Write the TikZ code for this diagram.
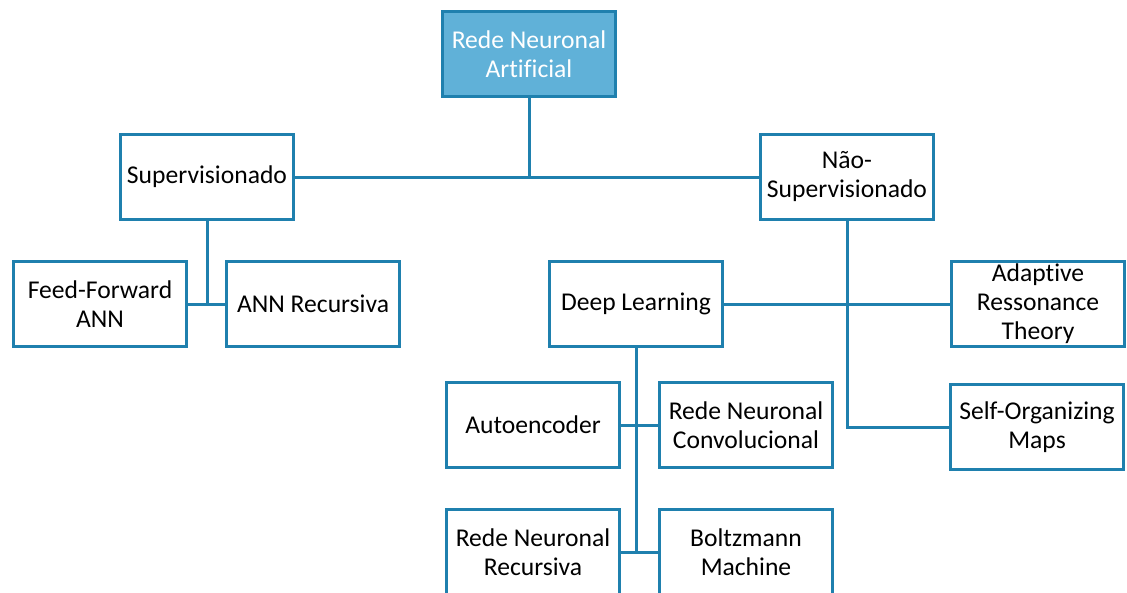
\documentclass[tikz,border=0pt]{standalone}
\usepackage{fontspec}
\setmainfont[Ligatures=NoCommon]{Carlito}
\definecolor{bord}{HTML}{1F80AE}
\definecolor{rootfill}{HTML}{60B1D8}
\begin{document}
\begin{tikzpicture}[x=1pt,y=-1pt,
  box/.style={draw=bord,line width=3.5pt,fill=white,minimum width=173pt,minimum height=85pt,
    inner sep=2pt,align=center,font=\fontsize{25.6}{29}\selectfont,text=black},
  rootbox/.style={box,fill=rootfill,text=white},
  conn/.style={draw=bord,line width=3pt}]
\useasboundingbox (0,0) rectangle (1127,592);
\clip (0,0) rectangle (1127,592);
\node[rootbox] (root) at (529,54) {Rede Neuronal\\Artificial};
\node[box] (sup) at (207,177) {Supervisionado};
\node[box] (nao) at (847,177) {Não-\\Supervisionado};
\node[box] (ff) at (100,304) {Feed-Forward\\ANN};
\node[box] (annr) at (313,304) {ANN Recursiva};
\node[box] (dl) at (636,304) {Deep Learning};
\node[box] (art) at (1038,304) {Adaptive\\Ressonance\\Theory};
\node[box] (ae) at (533,425) {Autoencoder};
\node[box] (rnc) at (746,425) {Rede Neuronal\\Convolucional};
\node[box] (som) at (1037,427) {Self-Organizing\\Maps};
\node[box] (rnr) at (533,552) {Rede Neuronal\\Recursiva};
\node[box] (bm) at (746,552) {Boltzmann\\Machine};
\coordinate (j1) at (root.south |- sup.east);
\path[conn] (root.south) -- (j1);
\path[conn] (sup.east) -- (nao.west);
\path[conn] (sup.south) -- (sup.south |- ff.east);
\path[conn] (ff.east) -- (annr.west);
\path[conn] (nao.south) -- (nao.south |- som.west) -- (som.west);
\path[conn] (dl.east) -- (art.west);
\path[conn] (dl.south) -- (dl.south |- rnr.east);
\path[conn] (ae.east) -- (rnc.west);
\path[conn] (rnr.east) -- (bm.west);
\end{tikzpicture}
\end{document}
